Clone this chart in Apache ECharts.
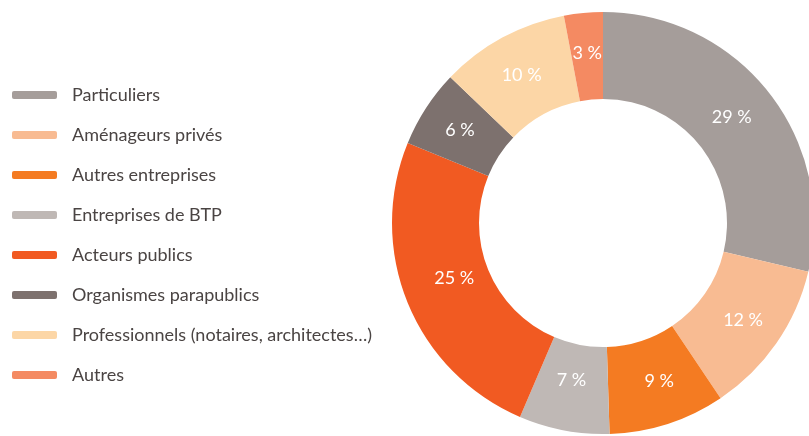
<!DOCTYPE html>
<html>
<head>
<meta charset="utf-8">
<script src="https://cdn.jsdelivr.net/npm/echarts@6/dist/echarts.min.js"></script>
<style>
  html, body { margin: 0; padding: 0; background: #fff; }
  #chart { width: 809px; height: 436px; }
</style>
</head>
<body>
<div id="chart"></div>
<script>
// categories and shares (%), clockwise from the top
const categories = ['Particuliers', 'Aménageurs privés', 'Autres entreprises', 'Entreprises de BTP',
  'Acteurs publics', 'Organismes parapublics', 'Professionnels (notaires, architectes…)', 'Autres']
const shares = [29, 12, 9, 7, 25, 6, 10, 3]
const colors = ['#a59d9a', '#f8bb92', '#f47b22', '#bfb8b5', '#f15a22', '#7d716e', '#fcd6a6', '#f48a62']
// small nudges so the labels sit where the original puts them
const labelNudge = [[-5, 0], [0, 0], [4, -4], [0, -10], [9, -9], [0, 0], [0, 2], [0, 0]]

let myChart = echarts.init(document.getElementById('chart'))
myChart.setOption({
  animation: false,
  color: colors,
  legend: {
    orient: 'vertical',
    left: 12,
    top: 85,
    padding: 0,
    icon: 'roundRect',
    itemWidth: 45,
    itemHeight: 8,
    itemGap: 20,
    data: categories,
    textStyle: {
      fontFamily: 'Lato',
      fontSize: 18,
      lineHeight: 20,
      padding: [0, 0, 0, 10],
      color: '#4a4443'
    }
  },
  series: [
    {
      type: 'pie',
      center: [603, 223],
      radius: [124, 211],
      startAngle: 90,
      clockwise: true,
      label: {
        position: 'inside',
        formatter: '{c} %',
        color: '#fff',
        fontFamily: 'Lato',
        fontSize: 18
      },
      labelLine: { show: false },
      data: categories.map((name, i) => ({
        name: name,
        value: shares[i],
        label: { offset: labelNudge[i] }
      }))
    }
  ]
})
</script>
</body>
</html>
